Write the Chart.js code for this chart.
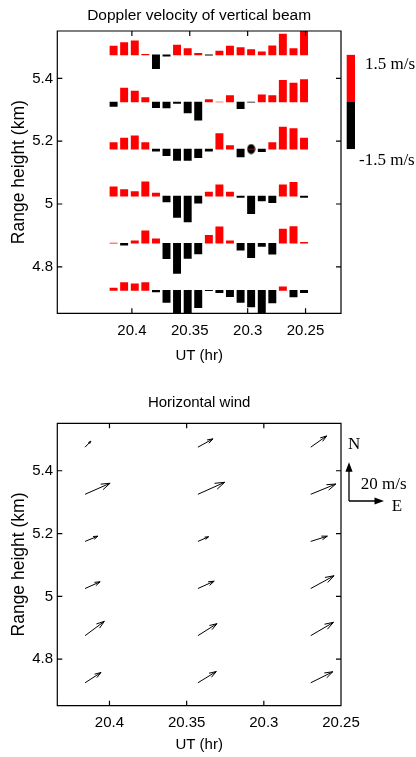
<!DOCTYPE html>
<html><head><meta charset="utf-8">
<script src="https://cdn.jsdelivr.net/npm/chart.js@4/dist/chart.umd.min.js"></script>
<style>
html,body{margin:0;padding:0;background:#fff;}
#wrap{position:relative;width:416px;height:757px;overflow:hidden;}
canvas{position:absolute;left:0;}
#c1{top:0;} #c2{top:375px;}
</style></head><body>
<div id="wrap"><canvas id="c1" width="416" height="375"></canvas><canvas id="c2" width="416" height="382"></canvas></div>
<script>
// ---------- data ----------
const utTimes = [20.4158, 20.4067, 20.3975, 20.3884, 20.3792, 20.3701, 20.3610, 20.3518, 20.3427, 20.3335,
                 20.3244, 20.3153, 20.3061, 20.2970, 20.2878, 20.2787, 20.2696, 20.2604, 20.2513];
const rangeHeights = [5.475, 5.325, 5.175, 5.025, 4.875, 4.725];
// vertical Doppler velocity (m/s), one array per range gate
const velRow1 = [0.28, 0.39, 0.45, 0.02, -0.44, -0.04, 0.31, 0.20, 0.05, -0.01, 0.12, 0.28, 0.23, 0.17, 0.10, 0.29, 0.66, 0.20, 0.85];
const velRow2 = [-0.14, 0.44, 0.35, 0.14, -0.18, -0.19, -0.05, -0.35, -0.58, 0.08, 0.00, 0.20, -0.21, -0.01, 0.23, 0.20, 0.69, 0.60, 0.71];
const velRow3 = [0.21, 0.35, 0.42, 0.21, -0.07, -0.21, -0.36, -0.36, -0.27, -0.07, 0.49, 0.11, -0.25, 0.00, -0.08, 0.21, 0.70, 0.65, 0.35];
const velRow4 = [0.30, 0.21, 0.15, 0.46, 0.10, -0.18, -0.68, -0.82, -0.22, 0.13, 0.36, 0.13, -0.04, -0.56, -0.15, -0.21, 0.36, 0.44, -0.04];
const velRow5 = [0.01, -0.06, 0.08, 0.40, 0.14, -0.49, -0.96, -0.48, -0.34, 0.25, 0.52, 0.08, -0.22, -0.46, -0.10, -0.35, 0.45, 0.53, 0.03];
const velRow6 = [0.07, 0.25, 0.21, 0.25, -0.05, -0.38, -0.80, -0.80, -0.55, -0.01, -0.07, -0.20, -0.38, -0.53, -0.78, -0.40, 0.11, -0.21, -0.07];
const velRows = [velRow1, velRow2, velRow3, velRow4, velRow5, velRow6];
const dotTimes = [20.2970];
const dotHeights = [5.175];
const colorbarMs = 1.5;            // colorbar spans +-1.5 m/s
const colorbarLabels = ['1.5 m/s', '-1.5 m/s'];
// horizontal wind (m/s), rows follow rangeHeights, columns follow windTimes
const windTimes = [20.4158, 20.3427, 20.2696];
const windEast = [
  [3.3, 8.6, 9.1],
  [14.3, 15.3, 14.3],
  [7.3, 6.1, 9.5],
  [8.6, 9.3, 13.3],
  [11.0, 10.9, 13.0],
  [9.1, 10.5, 12.6]
];
const windNorth = [
  [3.1, 4.3, 5.8],
  [5.7, 6.2, 5.3],
  [2.7, 2.4, 2.7],
  [3.5, 3.8, 6.6],
  [7.4, 6.2, 6.9],
  [5.3, 5.8, 5.7]
];
const windRefMs = 20;
const xTickValues = [20.4, 20.35, 20.3, 20.25];
const xTickLabels = ['20.4', '20.35', '20.3', '20.25'];
const yTickValues = [4.8, 5, 5.2, 5.4];
const yTickLabels = ['4.8', '5', '5.2', '5.4'];
const xMin = 20.25, xMax = 20.4338, yMin = 4.652, yMax = 5.551;

// ---------- styles ----------
const KM_PER_MS = 0.1;       // bar length scale (height units per m/s)
const PX_PER_MS_X = 1.75, PX_PER_MS_Y = 1.935;  // quiver scale
const SANS = "'Liberation Sans',Arial,sans-serif";
const SERIF = "'Liberation Serif','Times New Roman',serif";
const RED = '#ff0000', BLACK = '#000000';

Chart.defaults.color = '#000';
Chart.defaults.animation = false;

function makeScales(c) {
  return {
    x: {
      type: 'linear', reverse: true, min: xMin, max: xMax,
      afterBuildTicks: s => { s.ticks = xTickValues.map(v => ({value: v})); },
      afterFit: s => { s.height = c.xAxisHeight; },
      grid: {display: false, drawTicks: false}, border: {display: false},
      ticks: {autoSkip: false, maxRotation: 0, minRotation: 0, padding: c.tickPad, color: '#000',
              font: {family: SANS, size: 15}, callback: (v, i) => xTickLabels[i]},
      title: {display: true, text: 'UT (hr)', color: '#000', font: {family: SANS, size: 15},
              padding: {top: 0, bottom: c.xTitlePad}}
    },
    y: {
      type: 'linear', min: yMin, max: yMax,
      afterBuildTicks: s => { s.ticks = yTickValues.map(v => ({value: v})); },
      afterFit: s => { s.width = 57.3; },
      grid: {display: false, drawTicks: false}, border: {display: false},
      ticks: {autoSkip: false, padding: 4.3, color: '#000', font: {family: SANS, size: 15},
              callback: (v, i) => yTickLabels[i]},
      title: {display: true, text: 'Range height (km)', color: '#000', font: {family: SANS, size: 17.5},
              padding: {top: 8.8, bottom: 0}}
    }
  };
}

const framePlugin = {
  id: 'frame',
  afterDraw(chart) {
    const {ctx, chartArea: a, scales: {x, y}} = chart;
    ctx.save();
    ctx.strokeStyle = '#000'; ctx.lineWidth = 1.2;
    const L = a.left, R = a.right, T = a.top, B = a.bottom;
    ctx.beginPath();
    ctx.rect(L, T, R - L, B - T);
    x.ticks.forEach(t => {
      const p = x.getPixelForValue(t.value);
      ctx.moveTo(p, T); ctx.lineTo(p, T + 5);
      ctx.moveTo(p, B); ctx.lineTo(p, B - 5);
    });
    y.ticks.forEach(t => {
      const p = y.getPixelForValue(t.value);
      ctx.moveTo(L, p); ctx.lineTo(L + 5, p);
      ctx.moveTo(R, p); ctx.lineTo(R - 5, p);
    });
    ctx.stroke();
    ctx.restore();
  }
};

const colorbarPlugin = {
  id: 'colorbar',
  afterDraw(chart) {
    const {ctx, chartArea: a, scales: {y}} = chart;
    const center = rangeHeights[1];
    const top = y.getPixelForValue(center + colorbarMs * KM_PER_MS);
    const mid = y.getPixelForValue(center);
    const bot = y.getPixelForValue(center - colorbarMs * KM_PER_MS);
    const x0 = a.right + 5.7, w = 8.3;
    ctx.save();
    ctx.fillStyle = RED; ctx.fillRect(x0, top, w, mid - top);
    ctx.fillStyle = BLACK; ctx.fillRect(x0, mid, w, bot - mid);
    ctx.font = '17px ' + SERIF;
    ctx.textBaseline = 'middle'; ctx.textAlign = 'left';
    ctx.fillText(colorbarLabels[0], a.right + 24, top + 9.7);
    ctx.fillText(colorbarLabels[1], a.right + 18, bot + 11);
    ctx.restore();
  }
};

const quiverPlugin = {
  id: 'quiver',
  afterDatasetsDraw(chart) {
    const ctx = chart.ctx;
    const ds = chart.data.datasets[0];
    const meta = chart.getDatasetMeta(0);
    ctx.save();
    ctx.strokeStyle = '#000'; ctx.lineWidth = 1;
    ctx.beginPath();
    meta.data.forEach((pt, i) => {
      const raw = ds.data[i];
      const x0 = pt.x, y0 = pt.y;
      const du = raw.u * PX_PER_MS_X, dv = -raw.v * PX_PER_MS_Y;
      const x1 = x0 + du, y1 = y0 + dv;
      const al = 0.33, be = 0.33;
      ctx.moveTo(x0, y0); ctx.lineTo(x1, y1);
      ctx.moveTo(x1 - al * (du + be * dv), y1 - al * (dv - be * du));
      ctx.lineTo(x1, y1);
      ctx.lineTo(x1 - al * (du - be * dv), y1 - al * (dv + be * du));
    });
    ctx.stroke();
    // reference arrows
    const a = chart.chartArea;
    const ox = a.right + 8, oy = a.top + 77.7;
    const lx = windRefMs * PX_PER_MS_X, ly = windRefMs * PX_PER_MS_Y;
    ctx.lineWidth = 1.3;
    ctx.beginPath();
    ctx.moveTo(ox, oy); ctx.lineTo(ox, oy - ly + 8);
    ctx.moveTo(ox, oy); ctx.lineTo(ox + lx - 8, oy);
    ctx.stroke();
    ctx.fillStyle = '#000';
    ctx.beginPath();
    ctx.moveTo(ox, oy - ly); ctx.lineTo(ox - 3.6, oy - ly + 9.5); ctx.lineTo(ox + 3.6, oy - ly + 9.5); ctx.closePath();
    ctx.moveTo(ox + lx, oy); ctx.lineTo(ox + lx - 9.5, oy - 3.6); ctx.lineTo(ox + lx - 9.5, oy + 3.6); ctx.closePath();
    ctx.fill();
    ctx.font = '17px ' + SERIF;
    ctx.textBaseline = 'middle'; ctx.textAlign = 'left';
    ctx.fillText('N', ox - 1, oy - 56);
    ctx.fillText(windRefMs + ' m/s', ox + 11.7, oy - 16);
    ctx.fillText('E', ox + 42.7, oy + 5.7);
    ctx.restore();
  }
};

// ellipse marker
const dotImg = document.createElement('canvas');
dotImg.width = 9; dotImg.height = 11;
(function () { const d = dotImg.getContext('2d'); d.fillStyle = '#000'; d.beginPath(); d.ellipse(4.5, 5.5, 4, 5, 0, 0, Math.PI * 2); d.fill(); })();

// ---------- top chart ----------
const barDatasets = velRows.map((vals, r) => ({
  type: 'bar',
  data: utTimes.map((t, i) => ({x: t, y: [rangeHeights[r], rangeHeights[r] + vals[i] * KM_PER_MS], v: vals[i]})),
  backgroundColor: ctx => (ctx.raw && ctx.raw.v < 0) ? BLACK : RED,
  borderWidth: 0,
  barThickness: 7.3,
  grouped: false
}));
barDatasets.push({
  type: 'line', showLine: false,
  data: dotTimes.map((t, i) => ({x: t, y: dotHeights[i]})),
  pointStyle: dotImg, pointRadius: 5
});

new Chart(document.getElementById('c1'), {
  type: 'bar',
  data: {datasets: barDatasets},
  options: {
    responsive: false, animation: false,
    layout: {padding: {left: 0, right: 75, top: 0, bottom: 0}},
    plugins: {
      legend: {display: false}, tooltip: {enabled: false},
      title: {display: true, text: 'Doppler velocity of vertical beam', fullSize: false, color: '#000',
              font: {family: SANS, size: 15.5, weight: 'normal'}, padding: {top: 6.7, bottom: 5.7}}
    },
    scales: makeScales({xAxisHeight: 61.7, xTitlePad: 10.5, tickPad: 8.7})
  },
  plugins: [framePlugin, colorbarPlugin]
});

// ---------- bottom chart ----------
const windPoints = [];
rangeHeights.forEach((h, r) => windTimes.forEach((t, c) => {
  windPoints.push({x: t, y: h, u: windEast[r][c], v: windNorth[r][c]});
}));

new Chart(document.getElementById('c2'), {
  type: 'scatter',
  data: {datasets: [{data: windPoints, pointRadius: 0, pointHoverRadius: 0}]},
  options: {
    responsive: false, animation: false,
    layout: {padding: {left: 0, right: 75, top: 0, bottom: 0}},
    plugins: {
      legend: {display: false}, tooltip: {enabled: false},
      title: {display: true, text: 'Horizontal wind', fullSize: false, color: '#000',
              font: {family: SANS, size: 15, weight: 'normal'}, padding: {top: 19, bottom: 11.3}}
    },
    scales: makeScales({xAxisHeight: 51.3, xTitlePad: 3, tickPad: 8.6})
  },
  plugins: [framePlugin, quiverPlugin]
});
</script>
</body></html>
